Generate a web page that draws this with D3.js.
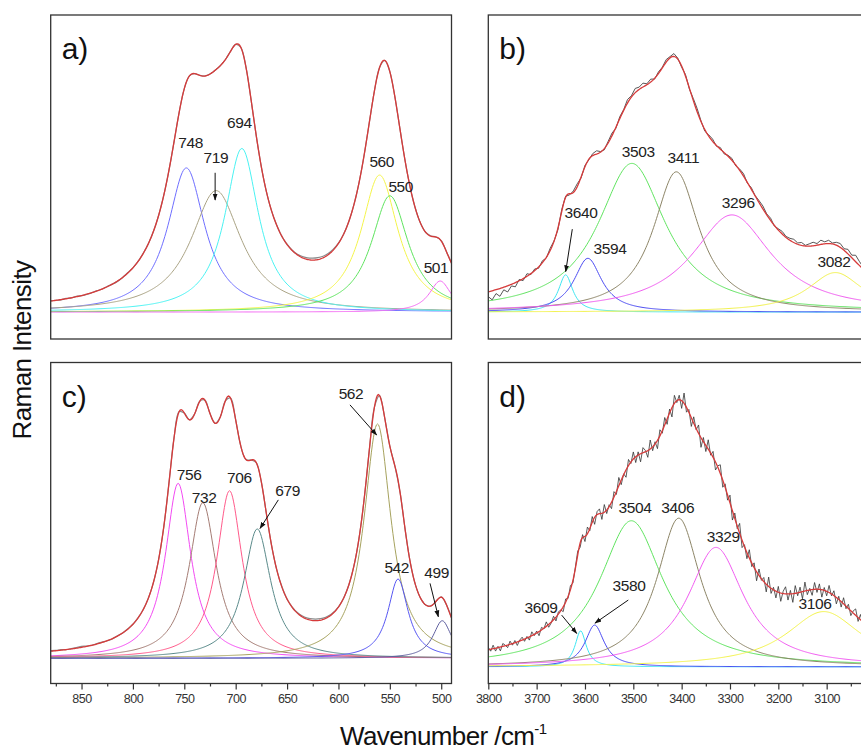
<!DOCTYPE html>
<html><head><meta charset="utf-8">
<script src="https://cdnjs.cloudflare.com/ajax/libs/d3/7.8.5/d3.min.js"></script>
<style>
body{margin:0;background:#fff}
svg{display:block;font-family:"Liberation Sans",Arial,Helvetica,sans-serif}
</style>
</head><body>
<svg id="chart" width="861" height="751"></svg>
<script>
// ---------------- DATA ----------------
// Panel a (low wavenumber, sample 1)
const aCenters = [748, 719, 694, 560, 550, 501];
const aHeights = [44.5, 37.5, 50.5, 42.3, 35.9, 9.6];
const aWidths  = [22, 30, 20, 22, 22, 13];
const aBase = 8.3;
const aLabelPos = [[743.8,58.9],[719.2,54.3],[696.5,65.2],[557.9,53.2],[539.4,45.5],[505.1,20.5]];
const aArrows = [[720,51.3,720,42.9]];
const aResid = [0.1,0,-0.1,0.1,0,0.1,0,-0.1,0,0.1,
  0,0.1,0,-0.1,0,0.1,0,0,0.1,0,
  0,0,0,0,0,0,0,0,0,0,
  0,0,0,0,0,0,0,0,0,0,
  0,0,0,0,0.1,0,0.1,0.1,
  0.2,0.4,0.5,0.6,0.6,0.5,0.4,0.3,0.1,
  0,0,0,0,0,0,0,0,0,0,
  0,0,0,0,0,0,0,0.1,0,0.1,0,0.1];

// Panel b (high wavenumber, sample 1)
const bCenters = [3640, 3594, 3503, 3411, 3296, 3082];
const bHeights = [11.5, 16.6, 45.9, 43.3, 30.0, 12.2];
const bWidths  = [18, 35, 85, 58, 100, 70];
const bBase = 8.3;
const bLabelPos = [[3608.2,37.3],[3548.2,26.2],[3489.7,56.3],[3396.6,54.2],[3282.8,40.3],[3084.8,22.3]];
const bArrows = [[3626.2,33.9,3639.9,20.8]];
const bResid = [-1.5,-2.8,-1.2,-2.4,-0.8,-1.9,-0.5,-1.3,0.4,-0.6,0.8,-0.3,0.5,-0.4,0.6,-0.2,0.7,0.1,-0.5,0.6,
  0.3,-0.4,0.5,0.9,-0.3,0.4,-0.2,0.6,1.0,0.2,-0.4,0.5,0.8,-0.3,0.6,0.2,1.1,0.4,1.3,0.7,
  1.2,0.3,0.9,-0.2,0.5,0.2,0.8,0.4,0.9,0.3,-0.4,0.5,-0.3,0.6,1.0,0.2,-0.5,0.4,0.7,-0.2,
  0.5,-0.4,0.3,0.6,-0.3,0.4,0.8,-0.2,0.5,0.1,0.6,0.9,0.3,0.7,-0.2,0.4,0.8,0.3,0.6,1.0,
  0.4,0.9,0.2,0.7,1.1,0.5,1.3,0.6,1.0,0.3,0.9,1.2,0.5,1.4,0.8,2.0,1.2,0.6,1.0,0.4,0.8];

// Panel c (low wavenumber, sample 2)
const cCenters = [756, 732, 706, 679, 562, 542, 499];
const cHeights = [54.5, 48.5, 52.2, 40.3, 73.0, 24.7, 11.7];
const cWidths  = [15, 16, 15, 16, 16, 12, 11];
const cBase = 7.85;
const cLabelPos = [[745.4,63.4],[730.8,56.1],[696.5,62.4],[649.4,58.4],[587.8,88.6],[543.3,34.3],[504.4,33.0]];
const cArrows = [[658.5,57.2,676.3,48.3],[588.8,86.8,562.8,77.4],[510.9,31.2,502.8,20.8]];
const cResid = [0.2,0.1,0.2,0,0.1,0.2,0.3,0.1,0,0.1,
  0.1,0,-0.1,0.1,0,0.1,0,0,0,0,
  0,0,0,0,0,0,0,0,0,0,
  0,0,0,0,0,0,0,0,0,0,
  0,0,0,0,0,0.1,0,0.1,
  0.2,0.3,0.4,0.5,0.5,0.4,0.3,0.2,0.1,
  0,0,0,0,0,0,0,0,0,0,
  0,0,0,0,0,0,0,0,0,0.1,0,0];

// Panel d (high wavenumber, sample 2)
const dCenters = [3609, 3580, 3504, 3406, 3329, 3106];
const dHeights = [11.2, 13.0, 45.5, 46.3, 37.2, 17.2];
const dWidths  = [14, 24, 80, 55, 70, 95];
const dBase = 5.2;
const dLabelPos = [[3691,22.1],[3508.9,28.8],[3496.5,53.2],[3408.2,53.2],[3313.9,44.2],[3124.2,23.1]];
const dArrows = [[3648.2,21.3,3617.1,15.6],[3510.4,26.0,3579.3,18.8]];
const dResid = [0.8,-0.6,1.1,-0.9,0.4,-1.2,0.9,0.2,-0.8,1.0,-0.5,0.7,-1.1,0.3,0.9,-0.7,0.5,-1.0,1.2,-0.4,
  0.6,-1.3,0.8,-0.2,1.4,-0.9,-0.3,1.1,-1.2,0.7,0.2,-1.5,1.0,-0.6,1.3,-0.8,0.4,1.2,-1.4,0.9,
  -1.6,2.1,-0.7,1.8,-2.2,0.9,1.5,-1.9,2.4,-1.1,0.6,-2.0,1.7,-0.9,2.6,-1.4,0.3,-2.3,1.9,-0.5,
  2.2,-1.8,1.0,-2.5,1.6,0.4,-2.1,2.8,-1.2,0.7,-2.6,1.9,-0.8,2.3,-1.7,1.2,-2.9,2.5,-0.6,1.4,
  -2.4,3.2,-1.5,0.9,-2.7,2.0,-0.4,2.6,-3.0,1.3,-1.9,2.9,-0.7,1.8,-2.5,0.5,2.7,-2.2,1.1,-1.6,
  2.4,-2.9,1.7,-0.8,3.1,-2.3,0.6,-1.9,2.6,-1.1,1.5,-2.8,2.0,-0.5,1.3,-2.4,2.9,-1.6,0.8,-2.1,
  1.8,-2.6,0.7,2.2,-1.9,1.1,-2.7,2.4,-0.9,1.6,-2.2,2.8,-1.3,0.5,-1.8,2.1,-1.0,1.7,-2.3,0.9,
  -1.4,2.2,-0.6,1.5,-2.0,1.0,-1.7,1.9,-0.8,1.3,-1.5,0.7,2.0,-1.2,1.6,-0.9,1.1,-1.6,0.8,-0.4,1.2];

// Axis ticks
const lowMajorTicks = [850, 800, 750, 700, 650, 600, 550, 500];
const lowMinorTicks = [875, 825, 775, 725, 675, 625, 575, 525];
const highMajorTicks = [3800, 3700, 3600, 3500, 3400, 3300, 3200, 3100];
const highMinorTicks = [3750, 3650, 3550, 3450, 3350, 3250, 3150, 3050];

// ---------------- STYLE ----------------
const aColors = ["#6e6eff","#a9a283","#4af2f2","#f4f44a","#5ee35e","#f26af2"];
const bColors = ["#3ee6f2","#4a4af2","#5ee35e","#8c8466","#f05af0","#f2f24a"];
const cColors = ["#f24af2","#a47c74","#ff5a8a","#5a8a8a","#a6a25e","#5656f2","#5e5e9e"];
const dColors = ["#3ee6f2","#4a4af2","#5ee35e","#8c8466","#f05af0","#f2f24a"];
const fitColor = "#d63a3a";

const svg = d3.select("#chart");
const defs = svg.append("defs");
defs.append("marker").attr("id","arr").attr("viewBox","0 0 10 10").attr("refX",9).attr("refY",5)
  .attr("markerWidth",7).attr("markerHeight",7).attr("orient","auto-start-reverse")
  .append("path").attr("d","M0,1.5 L10,5 L0,8.5 Z").attr("fill","#111");

const xLow = d3.scaleLinear().domain([880, 490]).range([50.7, 451.5]);
const xHigh = d3.scaleLinear().domain([3800, 3000]).range([488.3, 875]);
const yTop = d3.scaleLinear().domain([0, 100]).range([339, 15]);
const yBot = d3.scaleLinear().domain([0, 100]).range([683.5, 362.5]);

function lor(v, c, h, w){ return h * w * w / (w * w + (v - c) * (v - c)); }

function panel(p){
  const [xa, xb] = p.x.range();
  const [yb, ya] = p.y.range();
  const clipId = "clip-" + p.tag;
  defs.append("clipPath").attr("id", clipId).append("rect")
    .attr("x", xa).attr("y", ya).attr("width", xb - xa).attr("height", yb - ya);
  const g = svg.append("g");
  const plot = g.append("g").attr("clip-path", `url(#${clipId})`);
  const dom = p.x.domain();
  const grid = d3.range(dom[0], dom[1] - p.step / 2, -p.step);
  const fit = v => p.base + d3.sum(p.centers, (c, i) => lor(v, c, p.heights[i], p.widths[i]));
  const line = d3.line().x(d => p.x(d[0])).y(d => p.y(d[1]));
  // components
  p.centers.forEach((c, i) => {
    const pts = grid.map(v => [v, p.base + lor(v, c, p.heights[i], p.widths[i])]);
    plot.append("path").attr("d", line(pts)).attr("fill","none")
      .attr("stroke", p.colors[i]).attr("stroke-width", 1);
  });
  // experimental data
  const dpts = p.resid.map((r, k) => { const v = dom[0] - k * p.rstep; return [v, fit(v) + r]; });
  const dline = d3.line().x(d => p.x(d[0])).y(d => p.y(d[1])).curve(p.smooth ? d3.curveCatmullRom : d3.curveLinear);
  plot.append("path").attr("d", dline(dpts)).attr("fill","none")
    .attr("stroke", p.dataColor).attr("stroke-width", p.dataWidth);
  // fit
  plot.append("path").attr("d", line(grid.map(v => [v, fit(v)]))).attr("fill","none")
    .attr("stroke", fitColor).attr("stroke-width", 1.3);
  // labels
  p.centers.forEach((c, i) => {
    g.append("text").attr("x", p.x(p.labelPos[i][0])).attr("y", p.y(p.labelPos[i][1]))
      .attr("text-anchor","middle").attr("font-size", 15.5).attr("letter-spacing", -0.4)
      .attr("fill","#222").text(String(c));
  });
  p.arrows.forEach(a => {
    g.append("line").attr("x1", p.x(a[0])).attr("y1", p.y(a[1]))
      .attr("x2", p.x(a[2])).attr("y2", p.y(a[3]))
      .attr("stroke","#111").attr("stroke-width", 1).attr("marker-end","url(#arr)");
  });
  // frame
  g.append("rect").attr("x", xa).attr("y", ya).attr("width", xb - xa).attr("height", yb - ya)
    .attr("fill","none").attr("stroke","#333").attr("stroke-width", 1.3);
  // tag
  g.append("text").attr("x", xa + 11).attr("y", ya + 44).attr("font-size", 30)
    .attr("fill","#111").text(p.tag + ")");
  // axes
  if (p.major){
    const ax = g.append("g").attr("transform", `translate(0,${yb})`)
      .call(d3.axisBottom(p.x).tickValues(p.major).tickSize(6).tickPadding(4.5).tickFormat(d3.format("d")));
    ax.select(".domain").remove();
    ax.selectAll("line").attr("stroke","#333").attr("stroke-width",1.2);
    ax.selectAll("text").attr("font-size", 12.5).attr("letter-spacing", -0.5).attr("fill","#333")
      .attr("font-family",'"Liberation Sans",Arial,sans-serif');
    const mx = g.append("g").attr("transform", `translate(0,${yb})`)
      .call(d3.axisBottom(p.x).tickValues(p.minor).tickSize(3).tickFormat(""));
    mx.select(".domain").remove();
    mx.selectAll("line").attr("stroke","#333").attr("stroke-width",1.2);
  }
}

panel({tag:"a", x:xLow, y:yTop, step:1, centers:aCenters, heights:aHeights, widths:aWidths, base:aBase,
  colors:aColors, resid:aResid, rstep:5, smooth:true, dataColor:"#8a8a8a", dataWidth:1.2, labelPos:aLabelPos, arrows:aArrows});
panel({tag:"b", x:xHigh, y:yTop, step:2, centers:bCenters, heights:bHeights, widths:bWidths, base:bBase,
  colors:bColors, resid:bResid, rstep:8, dataColor:"#444", dataWidth:0.9, labelPos:bLabelPos, arrows:bArrows});
panel({tag:"c", x:xLow, y:yBot, step:1, centers:cCenters, heights:cHeights, widths:cWidths, base:cBase,
  colors:cColors, resid:cResid, rstep:5, smooth:true, dataColor:"#8a8a8a", dataWidth:1.2, labelPos:cLabelPos, arrows:cArrows,
  major:lowMajorTicks, minor:lowMinorTicks});
panel({tag:"d", x:xHigh, y:yBot, step:2, centers:dCenters, heights:dHeights, widths:dWidths, base:dBase,
  colors:dColors, resid:dResid, rstep:5, dataColor:"#333", dataWidth:0.8, labelPos:dLabelPos, arrows:dArrows,
  major:highMajorTicks, minor:highMinorTicks});

// axis titles
svg.append("text").attr("transform","translate(31,350) rotate(-90)").attr("text-anchor","middle")
  .attr("font-size", 26).attr("letter-spacing", -0.6).attr("fill","#111").text("Raman Intensity");
const xt = svg.append("text").attr("x", 340).attr("y", 745).attr("font-size", 26)
  .attr("letter-spacing", -0.6).attr("fill","#111");
xt.append("tspan").text("Wavenumber /cm");
xt.append("tspan").attr("dy", -11).attr("font-size", 15).text("-1");
</script>
</body></html>
